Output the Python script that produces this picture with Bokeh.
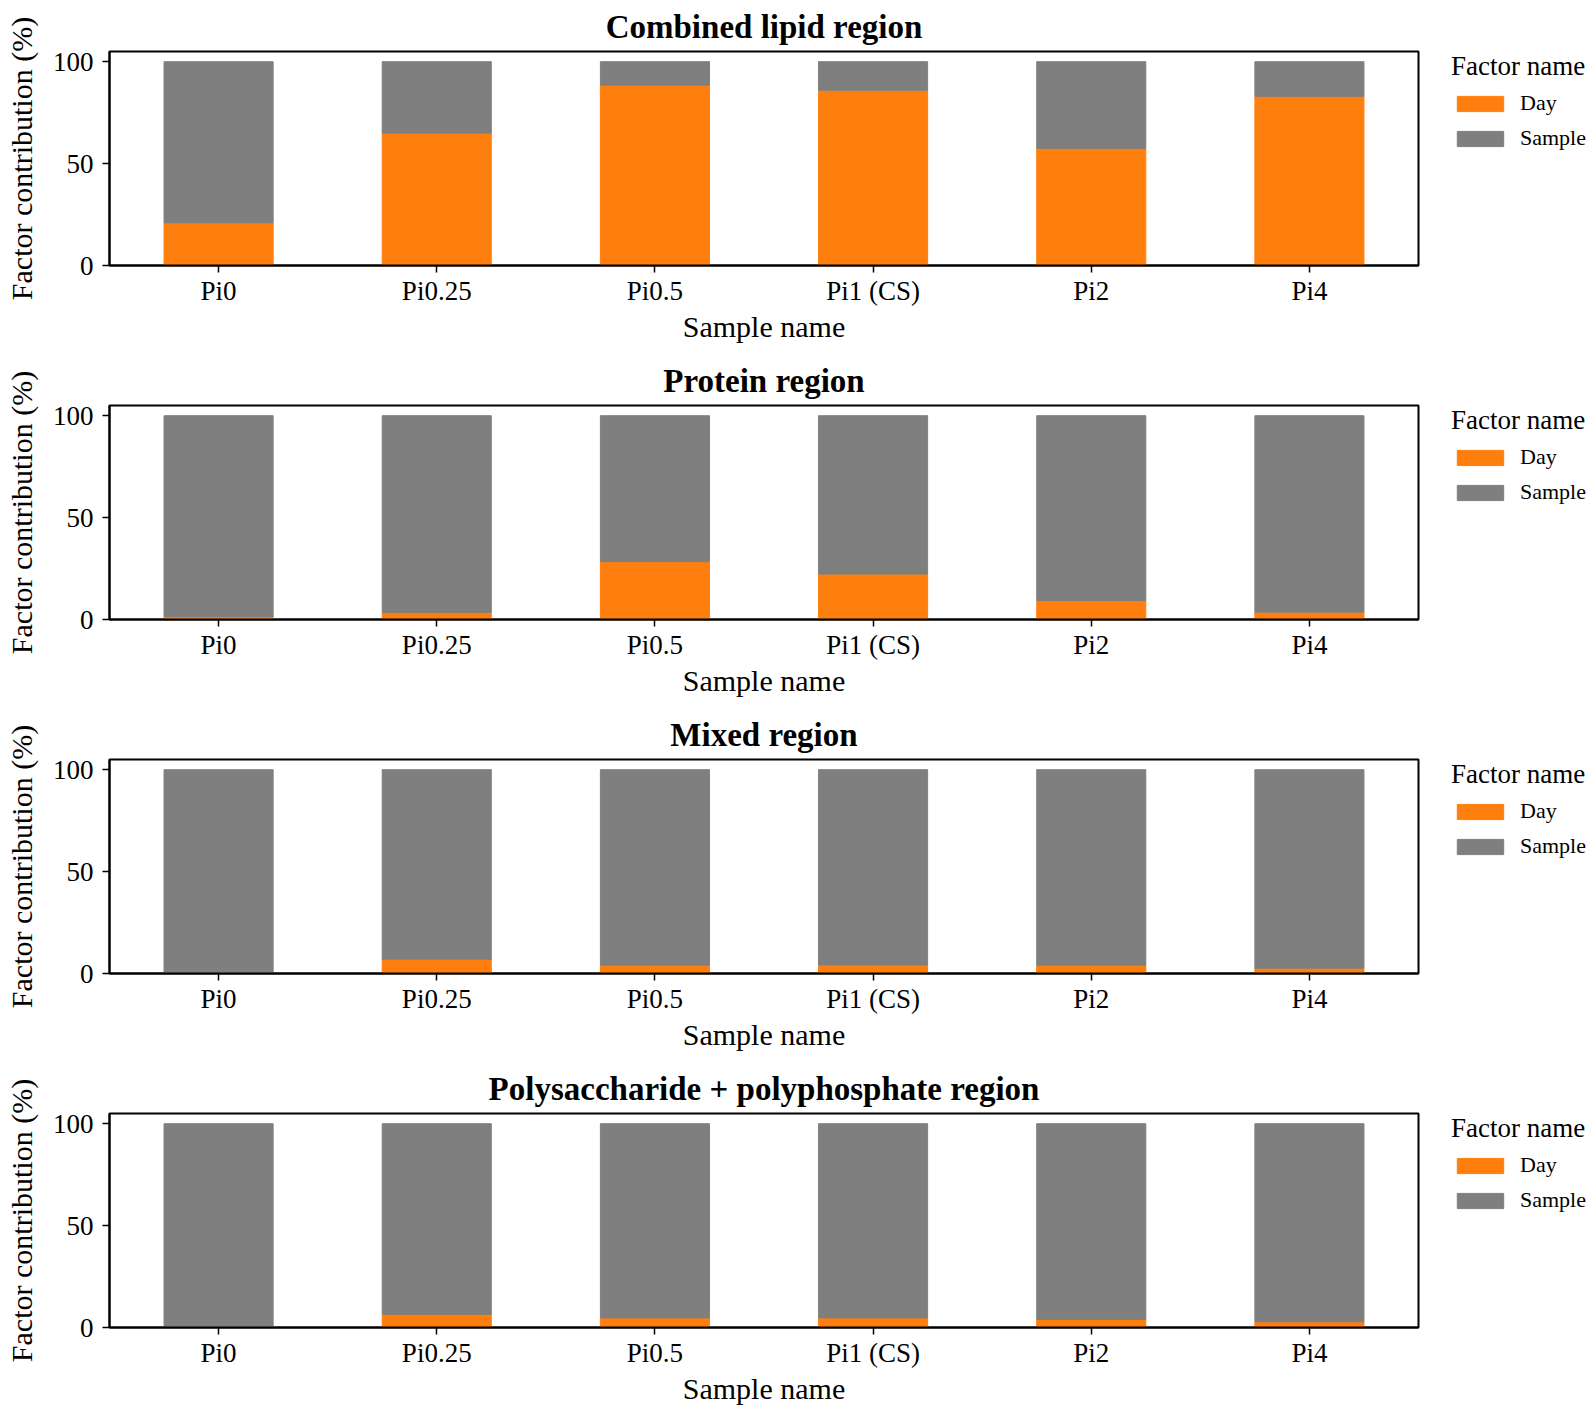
from bokeh.plotting import figure
from bokeh.layouts import column, row
from bokeh.models import (ColumnDataSource, Legend, LegendItem, FixedTicker, Range1d,
                          FactorRange)
from bokeh.embed import file_html
from bokeh.resources import INLINE

samples = ["Pi0", "Pi0.25", "Pi0.5", "Pi1 (CS)", "Pi2", "Pi4"]
panel_titles = ["Combined lipid region", "Protein region", "Mixed region",
                "Polysaccharide + polyphosphate region"]
factors = ["Day", "Sample"]
colors = ["#FF7F0E", "#7F7F7F"]
y_ticks = [0, 50, 100]

day_lipid = [21.0, 65.0, 88.5, 86.0, 57.5, 83.0]
sample_lipid = [79.0, 35.0, 11.5, 14.0, 42.5, 17.0]
day_protein = [1.5, 3.5, 28.4, 22.3, 9.3, 3.6]
sample_protein = [98.5, 96.5, 71.6, 77.7, 90.7, 96.4]
day_mixed = [0.3, 7.0, 4.1, 4.2, 4.1, 2.6]
sample_mixed = [99.7, 93.0, 95.9, 95.8, 95.9, 97.4]
day_poly = [0.5, 6.5, 4.7, 4.7, 4.0, 2.8]
sample_poly = [99.5, 93.5, 95.3, 95.3, 96.0, 97.2]

panels = [(day_lipid, sample_lipid), (day_protein, sample_protein),
          (day_mixed, sample_mixed), (day_poly, sample_poly)]

FONT = "Liberation Serif"
rows = []
for i, (title, (day, samp)) in enumerate(zip(panel_titles, panels)):
    src = ColumnDataSource(dict(sample=samples, Day=day, Sample=samp))
    p = figure(x_range=FactorRange(*samples), y_range=Range1d(0, 105),
               width=1420, height=354, output_backend="svg", toolbar_location=None,
               min_border_left=109, min_border_right=2,
               min_border_top=51, min_border_bottom=89, title=title)
    p.vbar_stack(factors, x="sample", width=0.5, color=colors, source=src)
    p.title.text_font = FONT
    p.title.text_font_size = "33px"
    p.title.text_font_style = "bold"
    p.title.text_color = "black"
    p.title.align = "center"
    p.title.standoff = 13
    p.xgrid.visible = False
    p.ygrid.visible = False
    p.outline_line_color = "black"
    p.outline_line_width = 2
    for ax in (p.xaxis[0], p.yaxis[0]):
        ax.axis_line_color = "black"
        ax.axis_line_width = 2
        ax.major_tick_line_color = "black"
        ax.major_tick_line_width = 1.5
        ax.major_tick_out = 7
        ax.major_tick_in = 0
        ax.minor_tick_line_color = None
        ax.major_label_text_font = FONT
        ax.major_label_text_font_size = "27px"
        ax.major_label_text_color = "black"
        ax.axis_label_text_font = FONT
        ax.axis_label_text_font_size = "30px"
        ax.axis_label_text_font_style = "normal"
        ax.axis_label_text_color = "black"
    p.xaxis.axis_label = "Sample name"
    p.xaxis.major_label_standoff = 3
    p.xaxis.axis_label_standoff = 1
    p.yaxis.axis_label = "Factor contribution (%)"
    p.yaxis.ticker = FixedTicker(ticks=y_ticks)
    p.yaxis.major_label_standoff = 9
    p.yaxis.axis_label_standoff = 12

    # legend panel (separate narrow figure holding only the legend)
    lf = figure(width=174, height=354, output_backend="svg", toolbar_location=None,
                x_axis_type=None, y_axis_type=None,
                x_range=Range1d(0, 1), y_range=Range1d(0, 1),
                min_border_left=31, min_border_right=0,
                min_border_top=51, min_border_bottom=0)
    lf.outline_line_color = None
    lf.xgrid.visible = False
    lf.ygrid.visible = False
    # off-screen key glyphs (outside the legend figure's ranges) used only for the legend swatches
    swatches = [lf.vbar(x=[5], top=[6], bottom=[5], width=0.5, color=c) for c in colors]
    legend = Legend(items=[LegendItem(label=f, renderers=[r]) for f, r in zip(factors, swatches)],
                    location="top_left", title="Factor name",
                    title_text_font=FONT, title_text_font_size="27px",
                    title_text_font_style="normal", title_text_color="black",
                    title_standoff=8,
                    label_text_font=FONT, label_text_font_size="22px",
                    label_text_color="black",
                    glyph_width=58, glyph_height=19, label_standoff=11,
                    spacing=9, padding=0, margin=0,
                    border_line_color=None, background_fill_alpha=0)
    lf.add_layout(legend, "center")
    rows.append(row(p, lf, spacing=0))

layout = column(*rows, spacing=0)
open("out.html", "w").write(file_html(layout, INLINE))
